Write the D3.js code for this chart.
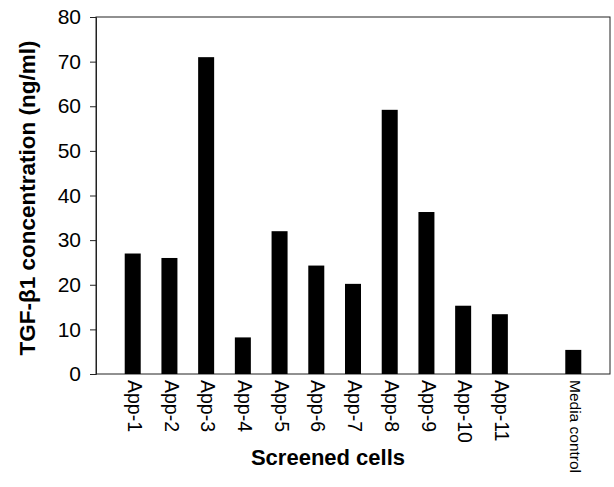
<!DOCTYPE html><html><head><meta charset="UTF-8"><script src="https://d3js.org/d3.v7.min.js"></script><style>
body { margin: 0; background: #fff; }
svg text { font-family: Arial, "Liberation Sans", sans-serif; fill: #000; }
</style></head><body><div id="chart"></div><script>
const categories = ["App-1","App-2","App-3","App-4","App-5","App-6","App-7","App-8","App-9","App-10","App-11","","Media control"];
const values = [27, 26, 71, 8.2, 32, 24.3, 20.2, 59.2, 36.3, 15.3, 13.4, null, 5.4];
const yTicks = [0, 10, 20, 30, 40, 50, 60, 70, 80];

const W = 614, H = 487;
const plotLeft = 96, plotRight = 610, plotTop = 17, plotBottom = 374;

const svg = d3.select('#chart').append('svg')
    .attr('width', W).attr('height', H);

const x = d3.scalePoint().domain(categories).range([plotLeft, plotRight]).padding(1);
const y = d3.scaleLinear().domain([0, 80]).range([plotBottom, plotTop]);

// frame
svg.append('rect')
    .attr('x', plotLeft).attr('y', plotTop)
    .attr('width', plotRight - plotLeft).attr('height', plotBottom - plotTop)
    .attr('fill', 'none').attr('stroke', '#222').attr('stroke-width', 1);

// bars
const barW = 16;
svg.append('g').selectAll('rect')
    .data(categories.map((c, i) => ({c, v: values[i]})).filter(d => d.v != null))
    .enter().append('rect')
    .attr('x', d => x(d.c) - barW / 2)
    .attr('y', d => y(d.v))
    .attr('width', barW)
    .attr('height', d => y(0) - y(d.v))
    .attr('fill', '#000');

// y axis
const yAxis = svg.append('g')
    .attr('transform', `translate(${plotLeft},0)`)
    .call(d3.axisLeft(y).tickValues(yTicks).tickSize(6).tickPadding(9));
yAxis.select('.domain').attr('stroke', '#222');
yAxis.selectAll('line').attr('stroke', '#222');
yAxis.selectAll('text').style('font-size', '21px');

// x labels (rotated)
svg.append('g').selectAll('text')
    .data(categories.filter(c => c !== ''))
    .enter().append('text')
    .attr('transform', d => `translate(${x(d) + 2},${plotBottom + 6}) rotate(90)`)
    .attr('dy', '0.35em')
    .style('font-size', d => d === 'Media control' ? '15.5px' : '19.5px')
    .text(d => d);

// axis titles
svg.append('text')
    .attr('transform', `translate(35,198) rotate(-90)`)
    .attr('text-anchor', 'middle')
    .style('font-size', '22.5px').style('font-weight', 'bold')
    .text('TGF-β1 concentration (ng/ml)');

svg.append('text')
    .attr('x', 328).attr('y', 465)
    .attr('text-anchor', 'middle')
    .style('font-size', '22px').style('font-weight', 'bold')
    .text('Screened cells');
</script></body></html>
